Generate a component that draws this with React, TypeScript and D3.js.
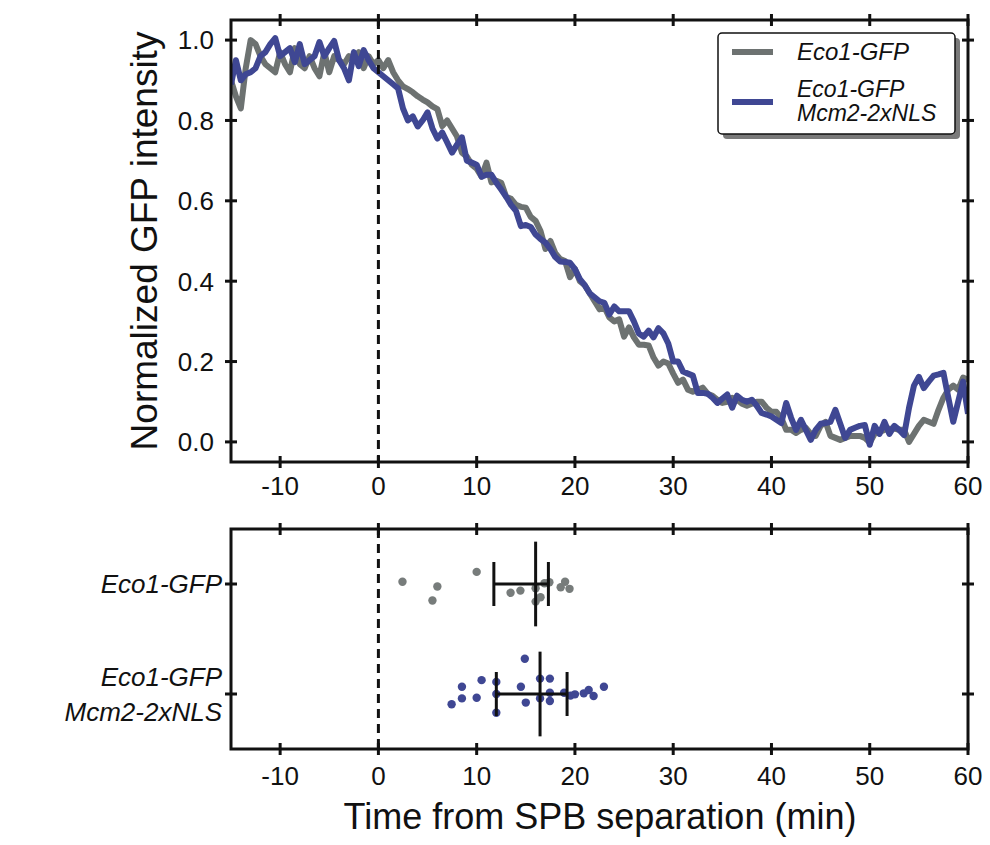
import React from 'react';
import * as d3 from 'd3';

// ---------- DATA ----------
const timeStart = -15;
const timeEnd = 60;
const timeStep = 0.5;

const seriesNames = ['Eco1-GFP', 'Eco1-GFP\nMcm2-2xNLS'];

const eco1Values = [
  0.90, 0.86, 0.83, 0.93, 1.00, 0.99, 0.96, 0.94, 0.93, 0.92,
  0.97, 0.94, 0.92, 0.98, 0.94, 0.93, 0.96, 0.93, 0.91, 0.97,
  0.92, 0.96, 0.95, 0.94, 0.96, 0.95, 0.97, 0.93, 0.96, 0.94,
  0.95, 0.93, 0.95, 0.92, 0.90, 0.885, 0.878, 0.87, 0.86, 0.852,
  0.845, 0.835, 0.828, 0.786, 0.80, 0.78, 0.76, 0.72, 0.71, 0.69,
  0.68, 0.66, 0.695, 0.646, 0.65, 0.645, 0.61, 0.605, 0.59, 0.585,
  0.583, 0.56, 0.55, 0.525, 0.48, 0.50, 0.47, 0.455, 0.45, 0.41,
  0.43, 0.40, 0.39, 0.37, 0.35, 0.33, 0.335, 0.31, 0.30, 0.305,
  0.262, 0.285, 0.26, 0.242, 0.242, 0.24, 0.21, 0.19, 0.20, 0.195,
  0.17, 0.147, 0.155, 0.13, 0.125, 0.13, 0.135, 0.12, 0.115, 0.105,
  0.097, 0.10, 0.11, 0.105, 0.095, 0.09, 0.095, 0.10, 0.10, 0.085,
  0.075, 0.075, 0.06, 0.03, 0.03, 0.022, 0.03, 0.035, 0.02, 0.015,
  0.04, 0.05, 0.015, 0.01, 0.005, 0.01, 0.015, 0.015, 0.015, 0.01,
  -0.002, 0.02, 0.025, 0.03, 0.033, 0.033, 0.03, 0.03, 0.0, 0.02,
  0.04, 0.055, 0.05, 0.045, 0.08, 0.11, 0.13, 0.14, 0.13, 0.16,
  0.155,
];

const mcm2Values = [
  0.89, 0.95, 0.90, 0.915, 0.92, 0.93, 0.96, 0.97, 0.99, 1.005,
  0.96, 0.97, 0.98, 0.945, 0.99, 0.94, 0.95, 0.96, 0.995, 0.96,
  0.98, 0.998, 0.95, 0.93, 0.90, 0.97, 0.935, 0.975, 0.95, 0.93,
  0.92, 0.91, 0.90, 0.89, 0.88, 0.83, 0.80, 0.81, 0.785, 0.80,
  0.82, 0.78, 0.755, 0.77, 0.745, 0.72, 0.74, 0.758, 0.70, 0.695,
  0.69, 0.66, 0.665, 0.665, 0.645, 0.628, 0.61, 0.59, 0.575, 0.537,
  0.54, 0.535, 0.516, 0.505, 0.496, 0.48, 0.46, 0.449, 0.448, 0.446,
  0.43, 0.405, 0.39, 0.37, 0.36, 0.35, 0.346, 0.317, 0.337, 0.325,
  0.325, 0.325, 0.30, 0.27, 0.262, 0.277, 0.26, 0.283, 0.27, 0.245,
  0.20, 0.20, 0.175, 0.17, 0.165, 0.122, 0.122, 0.12, 0.11, 0.097,
  0.108, 0.118, 0.085, 0.115, 0.105, 0.10, 0.105, 0.09, 0.072, 0.068,
  0.063, 0.055, 0.047, 0.097, 0.06, 0.03, 0.055, 0.03, 0.005, 0.03,
  0.045, 0.047, 0.05, 0.08, 0.045, 0.01, 0.03, 0.035, 0.04, 0.042,
  -0.007, 0.04, 0.02, 0.05, 0.02, 0.04, 0.03, 0.017, 0.085, 0.14,
  0.162, 0.134, 0.15, 0.165, 0.168, 0.172, 0.11, 0.05, 0.10, 0.15,
  0.07,
];

// bottom panel: individual cells (time, vertical jitter in row units)
const eco1Cells = [2.45, 6.0, 5.5, 10.0, 13.45, 14.45, 16.0, 16.5, 16.0, 16.9, 17.4, 18.55, 19.0, 19.45];
const eco1Jitter = [-0.02, 0.023, 0.15, -0.11, 0.08, 0.06, 0.038, 0.12, 0.16, -0.007, -0.016, 0.03, -0.02, 0.044];
const mcm2Cells = [14.9, 10.5, 12.0, 8.5, 14.5, 16.45, 17.45, 8.5, 10.0, 7.45, 12.0, 12.0, 15.0, 16.45, 17.45, 17.45, 18.9, 19.55, 20.0, 20.9, 21.4, 21.9, 22.95];
const mcm2Jitter = [-0.32, -0.126, -0.11, -0.066, -0.066, -0.14, -0.14, 0.04, 0.034, 0.093, 0.0, 0.17, 0.078, 0.04, -0.012, 0.063, -0.012, 0.015, 0.003, -0.006, -0.036, 0.018, -0.066];

// summary (center, low, high) per row
const summaryCenter = [16.0, 16.45];
const summaryLow = [11.75, 12.0];
const summaryHigh = [17.3, 19.2];

const xTicks = [-10, 0, 10, 20, 30, 40, 50, 60];
const yTicks = [0.0, 0.2, 0.4, 0.6, 0.8, 1.0];

const COLORS = ['#6d7271', '#3f4793'];
const DOT_COLORS = ['#777c7b', '#3f4793'];

const FONT = 'Liberation Sans, Arial, Helvetica, sans-serif';

export default function App() {
  const left = 231, right = 968;
  const topY0 = 20, topY1 = 462;
  const botY0 = 529, botY1 = 749;

  const x = d3.scaleLinear().domain([-15, 60]).range([left, right]);
  const y = d3.scaleLinear().domain([-0.05, 1.05]).range([topY1, topY0]);
  const yRow = d3.scaleLinear().domain([-0.5, 1.5]).range([botY0, botY1]);

  const times = d3.range(timeStart, timeEnd + timeStep / 2, timeStep);
  const line = d3.line<number>()
    .x((_, i) => x(times[i]))
    .y((d) => y(d));

  const series = [eco1Values, mcm2Values];
  const cells = [eco1Cells, mcm2Cells];
  const jitters = [eco1Jitter, mcm2Jitter];

  const tick = 6;
  const frameW = 3;

  const xTickMarks = (y0: number, y1: number) =>
    xTicks.map((t) => (
      <g key={'xt' + y0 + t}>
        <line x1={x(t)} x2={x(t)} y1={y0 - tick} y2={y0 + tick} stroke="#111" strokeWidth={3} />
        <line x1={x(t)} x2={x(t)} y1={y1 - tick} y2={y1 + tick} stroke="#111" strokeWidth={3} />
      </g>
    ));

  return (
    <svg width={990} height={845} style={{ position: 'absolute', left: 0, top: 0, background: '#fff' }} fontFamily={FONT}>
      <defs>
        <clipPath id="clipTop">
          <rect x={left} y={topY0} width={right - left} height={topY1 - topY0} />
        </clipPath>
      </defs>

      {/* ---------- top panel ---------- */}
      <g clipPath="url(#clipTop)">
        {series.map((s, k) => (
          <path key={k} d={line(s) || ''} fill="none" stroke={COLORS[k]} strokeWidth={6}
            strokeLinejoin="round" strokeLinecap="butt" />
        ))}
      </g>
      <line x1={x(0)} x2={x(0)} y1={topY0} y2={topY1} stroke="#111" strokeWidth={3} strokeDasharray="9,6" />
      <rect x={left} y={topY0} width={right - left} height={topY1 - topY0} fill="none" stroke="#111" strokeWidth={frameW} />
      {xTickMarks(topY0, topY1)}
      {yTicks.map((v) => (
        <g key={'yt' + v}>
          <line x1={left - tick} x2={left + tick} y1={y(v)} y2={y(v)} stroke="#111" strokeWidth={3} />
          <line x1={right - tick} x2={right + tick} y1={y(v)} y2={y(v)} stroke="#111" strokeWidth={3} />
          <text x={214} y={y(v)} dy="0.36em" textAnchor="end" fontSize={26} fill="#111">{v.toFixed(1)}</text>
        </g>
      ))}
      {xTicks.map((t) => (
        <text key={'xl1' + t} x={x(t)} y={495} textAnchor="middle" fontSize={26} fill="#111">{t}</text>
      ))}
      <text transform={`translate(157,${(topY0 + topY1) / 2}) rotate(-90)`} textAnchor="middle" fontSize={37} fill="#111">
        Normalized GFP intensity
      </text>

      {/* legend */}
      <rect x={723} y={38} width={237} height={101} rx={4} fill="#7a7a7a" />
      <rect x={718} y={33} width={237} height={101} rx={4} fill="#fff" stroke="#111" strokeWidth={1.5} />
      <line x1={732} x2={773} y1={52} y2={52} stroke={COLORS[0]} strokeWidth={6} />
      <line x1={732} x2={773} y1={102} y2={102} stroke={COLORS[1]} strokeWidth={6} />
      <text x={797} y={60} fontSize={24} fontStyle="italic" fill="#111">{seriesNames[0]}</text>
      {seriesNames[1].split('\n').map((s, i) => (
        <text key={'lg' + i} x={797} y={97 + i * 24} fontSize={23} fontStyle="italic" fill="#111">{s}</text>
      ))}

      {/* ---------- bottom panel ---------- */}
      <line x1={x(0)} x2={x(0)} y1={botY0} y2={botY1} stroke="#111" strokeWidth={3} strokeDasharray="9,6" />
      {cells.map((arr, k) => (
        <g key={'cells' + k}>
          {arr.map((t, i) => (
            <circle key={i} cx={x(t)} cy={yRow(k + jitters[k][i])} r={4.2} fill={DOT_COLORS[k]} />
          ))}
        </g>
      ))}
      {summaryCenter.map((c, k) => (
        <g key={'sum' + k} stroke="#111" strokeWidth={3}>
          <line x1={x(summaryLow[k])} x2={x(summaryHigh[k])} y1={yRow(k)} y2={yRow(k)} />
          <line x1={x(summaryLow[k])} x2={x(summaryLow[k])} y1={yRow(k - 0.2)} y2={yRow(k + 0.2)} />
          <line x1={x(summaryHigh[k])} x2={x(summaryHigh[k])} y1={yRow(k - 0.2)} y2={yRow(k + 0.2)} />
          <line x1={x(c)} x2={x(c)} y1={yRow(k - 0.385)} y2={yRow(k + 0.385)} />
        </g>
      ))}
      <rect x={left} y={botY0} width={right - left} height={botY1 - botY0} fill="none" stroke="#111" strokeWidth={frameW} />
      {xTickMarks(botY0, botY1)}
      {[0, 1].map((r) => (
        <g key={'rt' + r}>
          <line x1={left - tick} x2={left + tick} y1={yRow(r)} y2={yRow(r)} stroke="#111" strokeWidth={3} />
          <line x1={right - tick} x2={right + tick} y1={yRow(r)} y2={yRow(r)} stroke="#111" strokeWidth={3} />
        </g>
      ))}
      {seriesNames.map((name, r) => {
        const lines = name.split('\n');
        const lh = 35;
        const start = yRow(r) - ((lines.length - 1) * lh) / 2;
        return lines.map((s, i) => (
          <text key={'rl' + r + i} x={222} y={start + i * lh} dy="0.36em" textAnchor="end"
            fontSize={26} fontStyle="italic" fill="#111">{s}</text>
        ));
      })}
      {xTicks.map((t) => (
        <text key={'xl2' + t} x={x(t)} y={785} textAnchor="middle" fontSize={26} fill="#111">{t}</text>
      ))}
      <text x={600} y={829} textAnchor="middle" fontSize={36} fill="#111">Time from SPB separation (min)</text>
    </svg>
  );
}
